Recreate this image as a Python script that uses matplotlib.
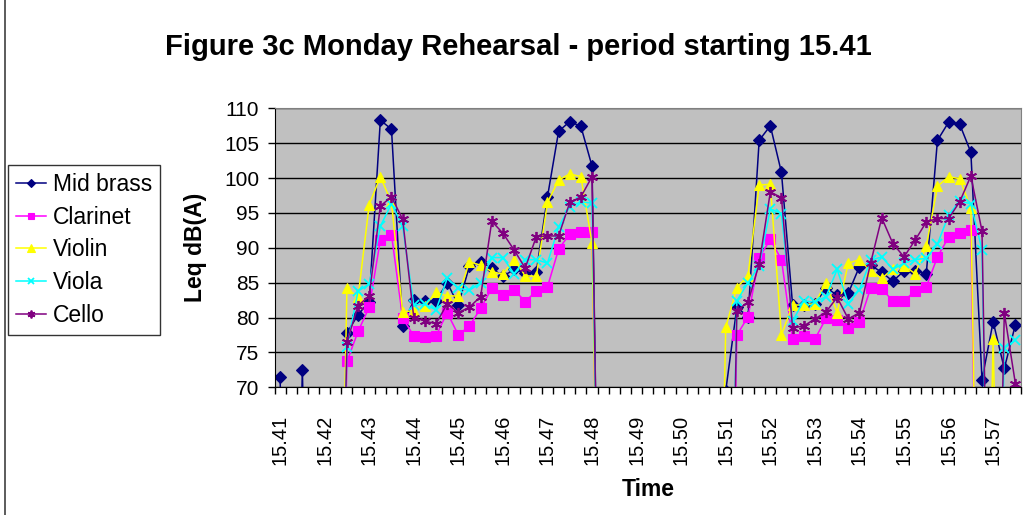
import numpy as np
import matplotlib
matplotlib.use("Agg")
import matplotlib.pyplot as plt
from matplotlib.lines import Line2D

plt.rcParams["font.family"] = ["Liberation Sans", "DejaVu Sans"]

# one category every 15 s, labelled once per minute
minute_labels = ["15.41", "15.42", "15.43", "15.44", "15.45", "15.46", "15.47", "15.48", "15.49",
                 "15.50", "15.51", "15.52", "15.53", "15.54", "15.55", "15.56", "15.57"]
per_minute = 4
n_cat = 67

# Leq dB(A); 0 = no reading (drops below the axis as in the original sheet)
mid_brass = [71.5, 0, 72.5, 0, 0, 0, 77.8, 80.4, 82.3, 108.3, 107.0, 78.8, 82.5, 82.4, 82.4, 85.0,
             81.8, 87.4, 88.0, 87.1, 85.9, 86.9, 86.4, 86.6, 97.3, 106.7, 108.1, 107.4, 101.7,
             0, 0, 0, 0, 0, 0, 0, 0, 0, 0, 0,
             69.5, 81.5, 80.1, 105.4, 107.5, 100.8, 81.8, 81.8, 81.9, 84.3, 83.2, 83.5, 87.3, 87.5,
             86.5, 85.2, 86.7, 86.7, 86.3, 105.4, 108.0, 107.7, 103.7, 71.1, 79.4, 72.7, 79.0]
clarinet = [0, 0, 0, 0, 0, 0, 73.7, 78.0, 81.5, 91.1, 91.9, 79.9, 77.4, 77.2, 77.4, 80.7,
            77.5, 78.8, 81.3, 84.2, 83.3, 84.0, 82.3, 83.8, 84.4, 89.8, 92.0, 92.2, 92.2,
            0, 0, 0, 0, 0, 0, 0, 0, 0, 0, 0,
            0, 77.5, 80.1, 88.6, 91.2, 88.3, 76.9, 77.4, 76.9, 79.9, 79.6, 78.5, 79.3, 84.2,
            84.1, 82.4, 82.4, 83.8, 84.4, 88.7, 91.5, 92.1, 92.5, 0, 0, 0, 0]
violin = [0, 0, 0, 0, 0, 0, 84.2, 82.9, 96.2, 100.2, 96.5, 80.8, 81.0, 81.7, 83.6, 83.1,
          83.1, 88.0, 87.5, 86.6, 86.2, 88.3, 86.0, 85.9, 96.5, 99.7, 100.6, 100.2, 90.7,
          0, 0, 0, 0, 0, 0, 0, 0, 0, 0, 0,
          78.6, 84.3, 86.0, 99.0, 99.1, 77.5, 81.8, 81.8, 82.0, 85.0, 80.7, 87.8, 88.3, 86.7,
          85.6, 87.0, 87.4, 86.3, 90.2, 98.8, 100.2, 99.9, 95.7, 0, 76.9, 0, 0]
viola = [0, 0, 0, 0, 0, 0, 75.8, 83.8, 84.8, 93.1, 96.3, 93.1, 81.8, 81.9, 81.1, 85.6,
         84.2, 83.9, 85.0, 88.6, 88.6, 86.3, 88.3, 88.3, 87.8, 93.0, 95.9, 96.6, 96.4,
         0, 0, 0, 0, 0, 0, 0, 0, 0, 0, 0,
         0, 82.4, 85.0, 87.4, 95.6, 94.9, 79.5, 82.4, 82.2, 83.0, 86.9, 82.0, 84.0, 88.2,
         88.7, 86.9, 87.8, 88.3, 88.5, 90.5, 94.7, 96.7, 96.3, 89.7, 0, 75.6, 76.8]
cello = [0, 0, 0, 0, 0, 0, 76.5, 81.7, 83.1, 96.0, 97.3, 94.1, 80.0, 79.5, 79.1, 82.0,
         80.7, 81.5, 83.0, 93.8, 92.1, 89.7, 87.1, 91.6, 91.7, 91.7, 96.5, 97.3, 100.2,
         0, 0, 0, 0, 0, 0, 0, 0, 0, 0, 0,
         0, 81.0, 82.2, 87.7, 98.0, 97.2, 78.5, 78.8, 79.8, 80.8, 82.9, 79.8, 80.7, 87.8,
         94.3, 90.6, 88.7, 91.1, 93.7, 94.2, 94.2, 96.6, 100.3, 92.4, 0, 80.7, 70.5]

series = [
    ("Mid brass", mid_brass, "#000080", "D", 6),
    ("Clarinet", clarinet, "#FF00FF", "s", 6.5),
    ("Violin", violin, "#FFFF00", "^", 7.5),
    ("Viola", viola, "#00FFFF", "x", 6.5),
    ("Cello", cello, "#800080", (6, 2, 0), 8),
]

fig = plt.figure(figsize=(10.26, 5.15), dpi=100)
ax = fig.add_axes([274.5 / 1026, 1 - 387.3 / 515, (1021 - 274.5) / 1026, (387.3 - 108.3) / 515])
ax.set_facecolor("#C0C0C0")

x = np.arange(n_cat)
handles = []
for name, vals, col, mk, ms in series:
    h, = ax.plot(x, vals, color=col, lw=1.1, marker=mk, ms=ms, mfc=col, mec=col,
                 mew=1.3 if mk in ("x",) or isinstance(mk, tuple) else 0.8, label=name)
    handles.append(h)

ax.set_ylim(70, 110)
ax.set_xlim(-0.5, n_cat - 0.5)
ax.set_yticks(np.arange(70, 111, 5))
ax.yaxis.grid(True, color="black", lw=1.0)
ax.set_axisbelow(True)

label_pos = np.arange(0, len(minute_labels) * per_minute, per_minute)
ax.set_xticks(label_pos)
ax.set_xticklabels(minute_labels, rotation=90, fontsize=14.5)
ax.set_xticks(np.arange(-0.5, n_cat, 1), minor=True)
ax.tick_params(axis="x", which="major", length=0, pad=20)
ax.tick_params(axis="x", which="minor", length=5, width=1, direction="out")
ax.tick_params(axis="y", labelsize=15, length=5, width=1, pad=6)

for side in ("top", "right"):
    ax.spines[side].set_color("#808080")
for side in ("left", "bottom"):
    ax.spines[side].set_color("black")

ax.set_ylabel("Leq dB(A)", fontsize=16.5, fontweight="bold", labelpad=12)
ax.set_xlabel("Time", fontsize=16.5, fontweight="bold", labelpad=9)
fig.text(518 / 1026, 1 - 47 / 515, "Figure 3c Monday Rehearsal - period starting 15.41",
         ha="center", va="center", fontsize=21, fontweight="bold")

leg = fig.legend(handles=handles, loc="upper left", bbox_to_anchor=(8 / 1026, 1 - 165 / 515),
                 fontsize=16.5, frameon=True, fancybox=False, edgecolor="black",
                 handlelength=1.3, handletextpad=0.3, borderpad=0.35, labelspacing=0.42,
                 borderaxespad=0, markerscale=0.7)
leg.get_frame().set_linewidth(1.0)

# chart-area border on the left edge
fig.add_artist(Line2D([4.5 / 1026, 4.5 / 1026], [0, 1], color="#404040", lw=1.2))

fig.savefig("out.png", dpi=100)
